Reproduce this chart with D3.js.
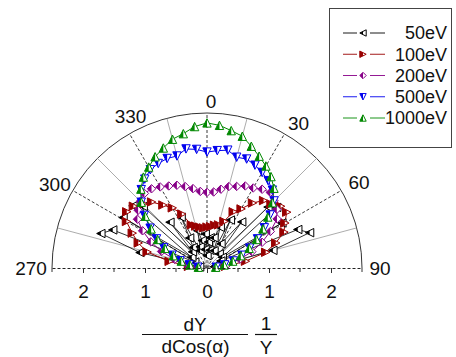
<!DOCTYPE html>
<html>
<head>
<meta charset="utf-8">
<script src="https://cdn.jsdelivr.net/npm/d3@7/dist/d3.min.js"></script>
<style>
  body { margin: 0; background: #fff; }
  svg text { font-family: "Liberation Sans", Arial, Helvetica, sans-serif; fill: #111; }
</style>
</head>
<body>
<svg id="chart" width="456" height="357"></svg>
<script>
// ---- data ----
const seriesNames = ["50eV", "100eV", "200eV", "500eV", "1000eV"];

// emission angle (deg, 0 = surface normal) for the 100–1000 eV scans
const scanAngles = [-85, -80, -75, -70, -65, -60, -55, -50, -45, -40, -35, -30, -25, -20, -15, -10, -5,
                    0, 5, 10, 15, 20, 25, 30, 35, 40, 45, 50, 55, 60, 65, 70, 75, 80, 85];

const yield100 = [0.30, 0.62, 1.00, 1.18, 1.33, 1.50, 1.58, 1.55, 1.46, 1.39, 1.24, 1.12, 0.96, 0.74, 0.70, 0.67, 0.65,
                  0.66, 0.67, 0.70, 0.72, 0.80, 1.00, 1.10, 1.28, 1.42, 1.46, 1.55, 1.57, 1.45, 1.37, 1.18, 0.98, 0.63, 0.30];
const yield200 = [0.16, 0.33, 0.54, 0.78, 1.00, 1.20, 1.37, 1.45, 1.52, 1.57, 1.56, 1.51, 1.46, 1.42, 1.36, 1.30, 1.24,
                  1.22, 1.23, 1.29, 1.36, 1.40, 1.46, 1.49, 1.55, 1.59, 1.53, 1.47, 1.38, 1.18, 0.98, 0.77, 0.55, 0.33, 0.16];
const yield500 = [0.15, 0.29, 0.45, 0.60, 0.77, 0.94, 1.12, 1.32, 1.50, 1.65, 1.75, 1.83, 1.86, 1.88, 1.87, 1.95, 1.92,
                  1.87, 1.90, 1.93, 1.85, 1.87, 1.83, 1.78, 1.72, 1.64, 1.53, 1.33, 1.13, 0.94, 0.76, 0.60, 0.44, 0.29, 0.15];
const yield1000 = [0.14, 0.28, 0.43, 0.58, 0.75, 0.92, 1.10, 1.30, 1.50, 1.66, 1.79, 1.88, 1.98, 2.06, 2.15, 2.20, 2.29,
                   2.34, 2.31, 2.25, 2.20, 2.09, 1.99, 1.90, 1.80, 1.68, 1.49, 1.28, 1.10, 0.92, 0.75, 0.58, 0.43, 0.28, 0.14];

// the 50 eV scan is noisy and was sampled at its own angles
const angles50 = [-82, -77, -72, -68, -64, -59, -55, -50, -46, -42, -39, -34, -30, -27, -22, -18, -14, -10, -6, -3,
                  0, 3, 6, 9, 13, 18, 22, 26, 30, 37, 41, 45, 49, 55, 59, 63, 67, 71, 75, 80];
const yield50 = [0.12, 1.11, 1.80, 1.64, 0.22, 1.58, 0.30, 1.56, 1.43, 0.35, 0.95, 0.40, 0.56, 0.92, 0.30, 0.36, 0.62, 0.45, 0.30, 0.55,
                 0.20, 0.42, 0.49, 0.29, 0.50, 0.69, 0.30, 0.86, 0.45, 0.93, 0.30, 1.39, 1.49, 0.30, 1.41, 0.25, 1.59, 1.75, 1.10, 0.12];

const angleTicks = [270, 300, 330, 0, 30, 60, 90];
const radialTicks = [-2, -1, 0, 1, 2];
const radialMinor = [-2.5, -1.5, -0.5, 0.5, 1.5, 2.5];

// ---- styling ----
const colors = ["#000000", "#990000", "#880088", "#0000ee", "#008800"];
const shapes = ["left", "right", "diamond", "down", "up"];

const svg = d3.select("#chart");
const cx = 207, cy = 268, R = 155;
const rScale = d3.scaleLinear().domain([0, 2.5]).range([0, R]);
const rad = d => d * Math.PI / 180;

const series = [
  angles50.map((a, i) => ({ a, r: yield50[i] })),
  scanAngles.map((a, i) => ({ a, r: yield100[i] })),
  scanAngles.map((a, i) => ({ a, r: yield200[i] })),
  scanAngles.map((a, i) => ({ a, r: yield500[i] })),
  scanAngles.map((a, i) => ({ a, r: yield1000[i] }))
];

// half-fill clip (left half of every marker)
svg.append("defs").append("clipPath").attr("id", "lefthalf")
  .append("rect").attr("x", -10).attr("y", -10).attr("width", 10).attr("height", 20);

function markerPath(shape, s) {
  switch (shape) {
    case "left":    return `M${-s},0L${s},${-s}L${s},${s}Z`;
    case "right":   return `M${s},0L${-s},${-s}L${-s},${s}Z`;
    case "diamond": return `M0,${-s}L${s},0L0,${s}L${-s},0Z`;
    case "down":    return `M${-s},${-s}L${s},${-s}L0,${s}Z`;
    case "up":      return `M0,${-s}L${s},${s}L${-s},${s}Z`;
  }
}
function drawMarker(g, shape, color, s) {
  const d = markerPath(shape, s);
  g.append("path").attr("d", d).attr("fill", "#fff").attr("stroke", color).attr("stroke-width", 1);
  g.append("path").attr("d", d).attr("fill", color).attr("clip-path", "url(#lefthalf)");
}

const plot = svg.append("g").attr("transform", `translate(${cx},${cy})`);

// ---- polar frame ----
const arcPath = d3.path();
arcPath.arc(0, 0, R, -Math.PI, 0);
plot.append("path").attr("d", arcPath.toString()).attr("fill", "none")
  .attr("stroke", "#333").attr("stroke-width", 1);

const spokes = [-75, -60, -45, -30, -15, 0, 15, 30, 45, 60, 75];
plot.selectAll("line.spoke").data(spokes).join("line")
  .attr("class", "spoke")
  .attr("x1", 0).attr("y1", 0)
  .attr("x2", a => d3.pointRadial(rad(a), R)[0])
  .attr("y2", a => d3.pointRadial(rad(a), R)[1])
  .attr("stroke", a => a % 30 === 0 ? "#222" : "#888")
  .attr("stroke-width", a => a % 30 === 0 ? 0.9 : 0.7)
  .attr("stroke-dasharray", a => a % 30 === 0 ? "3,2" : null);

// radial axis along the 270–90 diameter
const xAxisScale = d3.scaleLinear().domain([-2.5, 2.5]).range([cx - R, cx + R]);
const axisG = svg.append("g").attr("transform", `translate(0,${cy})`)
  .call(d3.axisBottom(xAxisScale).tickValues(radialTicks).tickSize(5).tickSizeOuter(0)
    .tickPadding(12).tickFormat(d => Math.abs(d)));
axisG.select(".domain").attr("stroke", "#222").attr("stroke-dasharray", "3,2");
axisG.selectAll(".tick line").attr("stroke", "#333");
axisG.selectAll(".tick text").style("font-size", "19px")
  .style("font-family", '"Liberation Sans", Arial, sans-serif').attr("fill", "#111");
svg.append("g").selectAll("line").data(radialMinor).join("line")
  .attr("x1", d => xAxisScale(d)).attr("x2", d => xAxisScale(d))
  .attr("y1", cy).attr("y2", cy + 4).attr("stroke", "#333");

// angle labels
const labelNudge = { 270: [-5, 0], 300: [-4, 2], 330: [9, -4], 0: [4, 4], 30: [6, 3], 60: [4, 0], 90: [2, 0] };
svg.selectAll("text.ang").data(angleTicks).join("text")
  .attr("class", "ang")
  .attr("x", d => cx + d3.pointRadial(rad(d), R + 16)[0] + labelNudge[d][0])
  .attr("y", d => cy + d3.pointRadial(rad(d), R + 16)[1] + labelNudge[d][1])
  .attr("dy", "0.36em")
  .attr("text-anchor", "middle")
  .style("font-size", "19px")
  .text(d => d);

// ---- data series ----
const lineGen = d3.lineRadial().angle(d => rad(d.a)).radius(d => rScale(d.r));
series.forEach((pts, i) => {
  plot.append("path").datum(pts).attr("d", lineGen)
    .attr("fill", "none").attr("stroke", colors[i])
    .attr("stroke-width", i === 0 ? 0.8 : 1);
});
series.forEach((pts, i) => {
  const g = plot.append("g");
  pts.forEach(p => {
    const [x, y] = d3.pointRadial(rad(p.a), rScale(p.r));
    drawMarker(g.append("g").attr("transform", `translate(${x},${y})`), shapes[i], colors[i], 4.2);
  });
});

// ---- axis title: (dY / dCos(α)) · (1 / Y) ----
const title = svg.append("g").style("font-size", "19px");
title.append("text").attr("x", 195).attr("y", 331).attr("text-anchor", "middle").text("dY");
title.append("line").attr("x1", 142).attr("x2", 248).attr("y1", 334.5).attr("y2", 334.5)
  .attr("stroke", "#111").attr("stroke-width", 1.2);
title.append("text").attr("x", 195.5).attr("y", 353).attr("text-anchor", "middle").text("dCos(α)");
title.append("text").attr("x", 266).attr("y", 330).attr("text-anchor", "middle").text("1");
title.append("line").attr("x1", 255).attr("x2", 277).attr("y1", 334.5).attr("y2", 334.5)
  .attr("stroke", "#111").attr("stroke-width", 1.2);
title.append("text").attr("x", 266).attr("y", 354).attr("text-anchor", "middle").text("Y");

// ---- legend ----
const legend = svg.append("g");
legend.append("rect").attr("x", 329.5).attr("y", 8.5).attr("width", 122).attr("height", 139)
  .attr("fill", "#fff").attr("stroke", "#444").attr("stroke-width", 1);
seriesNames.forEach((name, i) => {
  const y = 33 + i * 21.25;
  const row = legend.append("g").attr("transform", `translate(0,${y})`);
  [[343, 357], [370, 385]].forEach(([x1, x2]) =>
    row.append("line").attr("x1", x1).attr("x2", x2).attr("y1", 0).attr("y2", 0)
      .attr("stroke", colors[i]).attr("stroke-width", 0.9));
  drawMarker(row.append("g").attr("transform", "translate(363,0)"), shapes[i], colors[i], 3.2);
  row.append("text").attr("x", 447).attr("y", 0).attr("dy", "0.36em")
    .attr("text-anchor", "end").style("font-size", "18px").text(name);
});
</script>
</body>
</html>
